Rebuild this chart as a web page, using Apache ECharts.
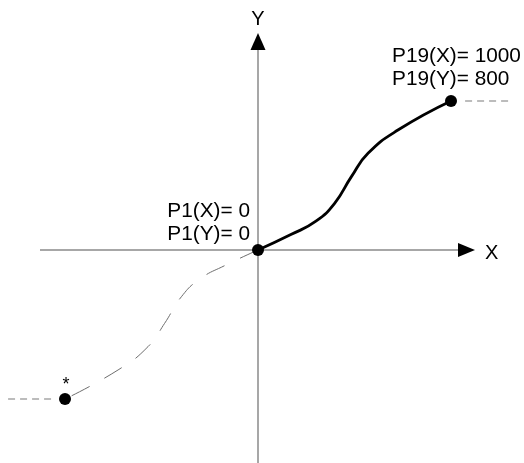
<!DOCTYPE html>
<html><head><meta charset="utf-8">
<script src="https://cdn.jsdelivr.net/npm/echarts@6/dist/echarts.min.js"></script>
<style>html,body{margin:0;padding:0;background:#fff}#c{width:524px;height:463px}</style>
</head><body><div id="c"></div>
<script>
// curve (solid branch)
const curveX = [0, 173, 300, 397, 484, 570, 725, 1000];
const curveY = [0, 84, 155, 251, 394, 519, 644, 800];
// dashed branch (lower left)
const mirrorX = [0, -173, -300, -397, -484, -570, -725, -1000];
const mirrorY = [0, -84, -155, -251, -394, -519, -644, -800];
// dashed continuation stubs
const tailRightX = [1073, 1306];
const tailRightY = [800, 800];
const tailLeftX = [-1295, -1052];
const tailLeftY = [-800, -800];
// marked points
const pointX = [0, 1000, -1000];
const pointY = [0, 800, -800];
const pointLabels = ['P1(X)= 0\nP1(Y)= 0', 'P19(X)= 1000\nP19(Y)= 800', '*'];
// drawn axes (extent of the axis lines)
const axisXLineX = [-1129.5, 1080.3];
const axisXLineY = [0, 0];
const axisYLineX = [0, 0];
const axisYLineY = [-1143.6, 1119.5];
const axisNames = ['X', 'Y'];

const X_MIN = -1336.8, X_MAX = 1378.2;
const Y_MIN = -1143.6, Y_MAX = 1342.3;
const FONT = "'Liberation Sans', Arial, sans-serif";

const zip = (a, b) => a.map((v, i) => [v, b[i]]);

const labelStyles = [
  { show: true, position: 'top', align: 'right', offset: [-8, 0], distance: -1.5 },
  { show: true, position: 'top', align: 'left', offset: [-59, 0], distance: 4.5 },
  { show: true, position: 'top', align: 'center', offset: [1, 0], distance: -4, fontSize: 18 }
];

const chart = echarts.init(document.getElementById('c'), null, { renderer: 'canvas' });
const axisCommon = {
  type: 'value', show: false,
  axisTick: { show: false }, axisLabel: { show: false }, splitLine: { show: false }, axisLine: { show: false }
};
const axisLineStyle = { color: '#8a8a8a', width: 1.5 };
chart.setOption({
  animation: false,
  backgroundColor: '#fff',
  grid: { left: 0, right: 0, top: 0, bottom: 0, containLabel: false },
  xAxis: Object.assign({}, axisCommon, { min: X_MIN, max: X_MAX }),
  yAxis: Object.assign({}, axisCommon, { min: Y_MIN, max: Y_MAX }),
  series: [
    { type: 'line', data: zip(axisXLineX, axisXLineY), showSymbol: false, lineStyle: axisLineStyle, z: 1, silent: true },
    { type: 'line', data: zip(axisYLineX, axisYLineY), showSymbol: false, lineStyle: axisLineStyle, z: 1, silent: true },
    { type: 'line', data: zip(mirrorX, mirrorY), smooth: 0.5, showSymbol: false,
      lineStyle: { color: '#6e6e6e', width: 1, type: [20, 17] }, z: 2 },
    { type: 'line', data: zip(curveX, curveY), smooth: 0.5, showSymbol: false,
      lineStyle: { color: '#000', width: 2.8 }, z: 3 },
    { type: 'line', data: zip(tailRightX, tailRightY), showSymbol: false,
      lineStyle: { color: '#7a7a7a', width: 1.2, type: [7, 5] }, z: 2 },
    { type: 'line', data: zip(tailLeftX, tailLeftY), showSymbol: false,
      lineStyle: { color: '#7a7a7a', width: 1.2, type: [7, 5] }, z: 2 },
    { type: 'scatter', symbol: 'circle', symbolSize: 12, itemStyle: { color: '#000', opacity: 1 }, z: 5,
      data: pointX.map((x, i) => ({
        value: [x, pointY[i]],
        label: Object.assign({ formatter: pointLabels[i], color: '#000', fontSize: 20.8, lineHeight: 23, fontFamily: FONT }, labelStyles[i])
      })) },
    // axis arrow heads with axis names
    { type: 'scatter', symbol: 'triangle', symbolSize: [14, 17], symbolRotate: -90,
      itemStyle: { color: '#000', opacity: 1 }, data: [[axisXLineX[1], 0]], z: 6, silent: true,
      label: { show: true, formatter: axisNames[0], position: 'right', distance: 10, fontSize: 20, color: '#000', fontFamily: FONT, offset: [0, 3] } },
    { type: 'scatter', symbol: 'triangle', symbolSize: [15, 17],
      itemStyle: { color: '#000', opacity: 1 }, data: [[0, axisYLineY[1]]], z: 6, silent: true,
      label: { show: true, formatter: axisNames[1], position: 'top', distance: 4, fontSize: 20, color: '#000', fontFamily: FONT } }
  ]
});
</script></body></html>
